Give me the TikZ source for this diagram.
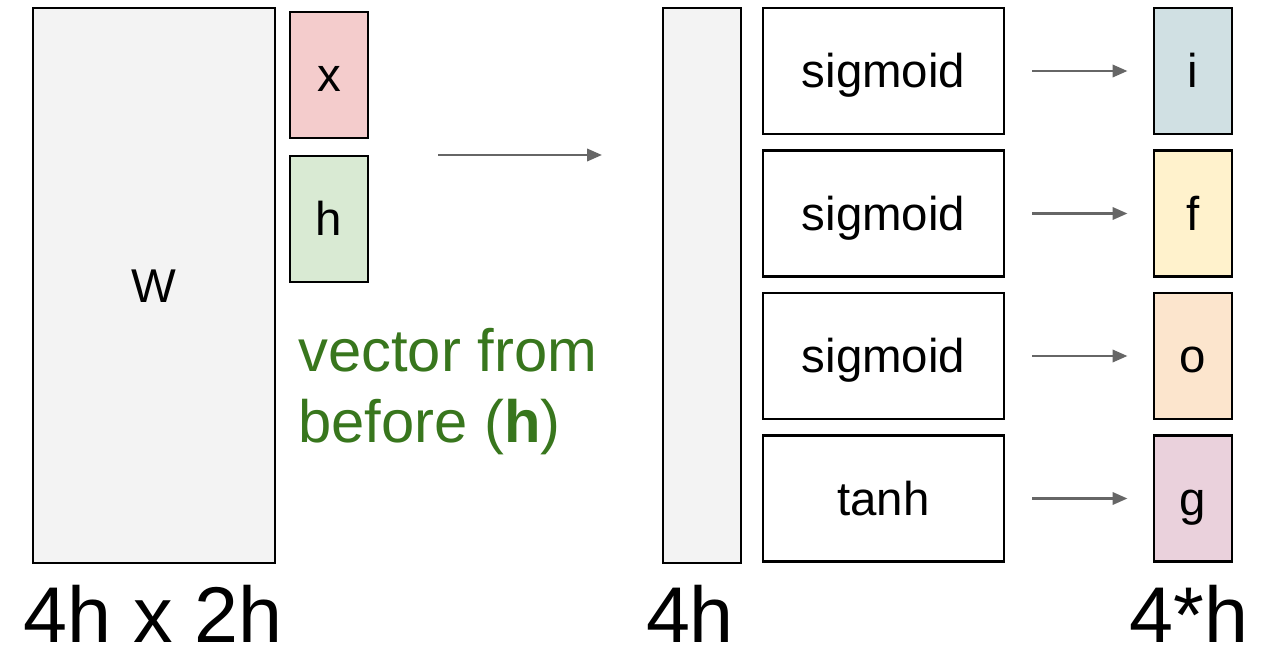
\documentclass[tikz,border=0pt]{standalone}
\usepackage{fontspec}
\setmainfont{Liberation Sans}
\usepackage{xcolor}
\definecolor{wgray}{HTML}{F3F3F3}
\definecolor{xred}{HTML}{F4CCCC}
\definecolor{hgreen}{HTML}{D9EAD3}
\definecolor{iblue}{HTML}{D0E0E3}
\definecolor{fyellow}{HTML}{FFF2CC}
\definecolor{oorange}{HTML}{FCE5CD}
\definecolor{gpink}{HTML}{EAD1DC}
\definecolor{txtgreen}{HTML}{38761D}
\definecolor{arrgray}{HTML}{666666}
\usetikzlibrary{arrows.meta}

\tikzset{
    box/.style={draw, line width=1.2pt, inner sep=0pt, minimum width=1.56cm, minimum height=2.52cm,
        text height=19.3pt, text depth=0pt, font=\fontsize{27}{32}\selectfont},
    gatebox/.style={box, minimum width=4.82cm},
    bigtext/.style={inner sep=0pt, anchor=base, font=\fontsize{45}{54}\selectfont},
    flow/.style={draw=arrgray, line width=1.5pt, -{Triangle[length=8.5pt,width=7pt]}},
}

\begin{document}
\begin{tikzpicture}[x=0.02cm, y=-0.02cm]
            \useasboundingbox (0, 0) rectangle (1273, 659);

            \node[box, fill=wgray, minimum width=4.84cm, minimum height=11.1cm] (W) at (154, 285.5) {W};
            \node[box, fill=xred] (x) at (329, 75) {x};
            \node[box, fill=hgreen] (h) at (329, 219) {h};

            \node[anchor=base west, inner sep=0pt, align=left, text=txtgreen,
                font=\fontsize{34}{40.3}\selectfont] (prev) at (298, 442)
                {vector from\\before (\textbf{h})};

            \coordinate (in) at (438, 155);
            \coordinate (out) at (602, 155);
            \draw[flow] (in) -- (out);

            \node[box, fill=wgray, minimum height=11.1cm] (bar) at (702, 285.5) {};

            \node[gatebox] (si) at (883.5, 71) {sigmoid};
            \node[gatebox] (sf) at (883.5, 213.5) {sigmoid};
            \node[gatebox] (so) at (883.5, 356) {sigmoid};
            \node[gatebox] (sg) at (883.5, 498.5) {tanh};

            \node[box, fill=iblue] (i) at (1193, 71) {i};
            \node[box, fill=fyellow] (f) at (1193, 213.5) {f};
            \node[box, fill=oorange] (o) at (1193, 356) {o};
            \node[box, fill=gpink] (g) at (1193, 498.5) {g};

            \foreach \s/\t in {si/i, sf/f, so/o, sg/g}
                \draw[flow, shorten <=15.5pt, shorten >=14.5pt] (\s) -- (\t);

            \node[bigtext] (wsize) at (153, 642) {4h x 2h};
            \node[bigtext] (barsize) at (690, 642) {4h};
            \node[bigtext] (gatesize) at (1189, 642) {4*h};
        \end{tikzpicture}
\end{document}
